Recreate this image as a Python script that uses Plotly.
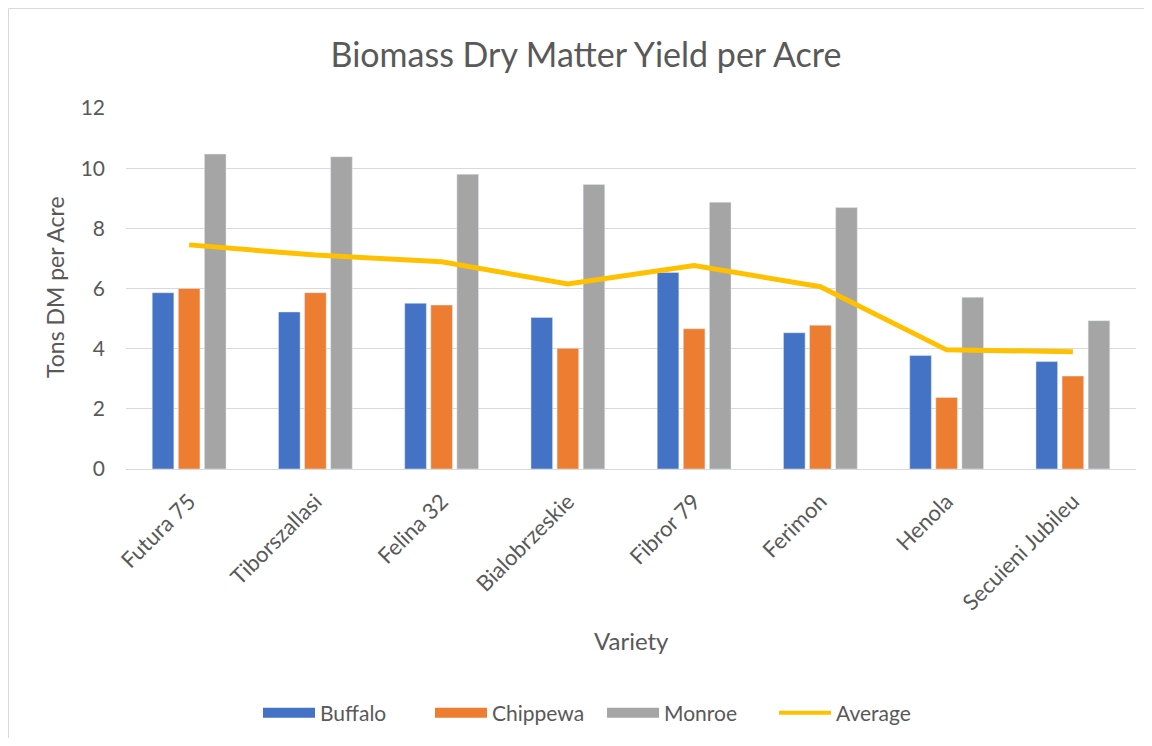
import plotly.graph_objects as go

categories = ["Futura 75", "Tiborszallasi", "Felina 32", "Bialobrzeskie",
              "Fibror 79", "Ferimon", "Henola", "Secuieni Jubileu"]
buffalo = [5.86, 5.22, 5.51, 5.04, 6.53, 4.53, 3.77, 3.57]
chippewa = [6.0, 5.86, 5.45, 4.01, 4.66, 4.78, 2.38, 3.09]
monroe = [10.47, 10.38, 9.8, 9.46, 8.87, 8.69, 5.71, 4.93]
average = [7.45, 7.11, 6.89, 6.15, 6.76, 6.06, 3.96, 3.9]
y_ticks = [0, 2, 4, 6, 8, 10, 12]

FONT = "Lato, Open Sans, sans-serif"
TXT = "#595959"
C_BUF, C_CHI, C_MON, C_AVG = "#4472C4", "#ED7D31", "#A5A5A5", "#FFC000"

fig = go.Figure()
fig.add_trace(go.Bar(name="Buffalo", x=categories, y=buffalo, marker_color=C_BUF,
                     showlegend=False))
fig.add_trace(go.Bar(name="Chippewa", x=categories, y=chippewa, marker_color=C_CHI,
                     showlegend=False))
fig.add_trace(go.Bar(name="Monroe", x=categories, y=monroe, marker_color=C_MON,
                     showlegend=False))
fig.add_trace(go.Scatter(name="Average", x=categories, y=average, mode="lines",
                         line=dict(color=C_AVG, width=5), showlegend=False))
# legend swatches (wide rectangles like the reference)
for nm, col, w in [("Buffalo", C_BUF, 12), ("Chippewa", C_CHI, 12),
                   ("Monroe", C_MON, 12), ("Average", C_AVG, 4)]:
    fig.add_trace(go.Scatter(name=nm, x=[None], y=[None], mode="lines",
                             line=dict(color=col, width=w), showlegend=True))

# page is offset by the 8px body margin
O = 8
W, H = 1152 - 2 * O, 746 - 2 * O
L = 126 - O
R = W - (1136 - O)
T = 108 - O
B = H - (469 - O)
pw, ph = W - L - R, H - T - B


def px(xp):
    return (xp - O - L) / pw


def py(yp):
    return (H - B - (yp - O)) / ph


fig.update_layout(
    width=W, height=H,
    margin=dict(l=L, r=R, t=T, b=B, autoexpand=False),
    paper_bgcolor="white", plot_bgcolor="white",
    font=dict(family=FONT, color=TXT, size=21),
    barmode="group", bargap=0.38, bargroupgap=0.17,
    title=dict(text="Biomass Dry Matter Yield per Acre", x=(586 - O) / W,
               xref="container", xanchor="center",
               y=1 - (55 - O) / H, yref="container", yanchor="middle",
               font=dict(size=34, color=TXT, family=FONT)),
    xaxis=dict(tickangle=-45, showgrid=False, showline=True, linecolor="#d9d9d9",
               linewidth=1, ticks="", ticklabelstandoff=10,
               tickfont=dict(size=22, color=TXT)),
    yaxis=dict(range=[0, 12], tickvals=y_ticks, showgrid=True, gridcolor="#d9d9d9",
               gridwidth=1, zeroline=False, showline=False, ticks="",
               ticklabelstandoff=20, tickfont=dict(size=21, color=TXT)),
    legend=dict(orientation="h", x=px(258), xanchor="left", y=py(713),
                yanchor="middle", font=dict(size=21, color=TXT),
                itemwidth=52, entrywidth=105, entrywidthmode="pixels",
                traceorder="normal"),
    annotations=[
        dict(text="Variety", xref="paper", yref="paper", x=px(631), y=py(640),
             showarrow=False, font=dict(size=24, color=TXT, family=FONT),
             xanchor="center", yanchor="middle"),
        dict(text="Tons DM per Acre", xref="paper", yref="paper", x=px(55), y=py(287),
             showarrow=False, textangle=-90, font=dict(size=23, color=TXT, family=FONT),
             xanchor="center", yanchor="middle"),
    ],
    shapes=[dict(type="rect", xref="paper", yref="paper",
                 x0=px(O + 0.5), x1=px(1148), y0=py(746), y1=py(8.5),
                 line=dict(color="#d9d9d9", width=1))],
)

fig.write_html("out.html")
